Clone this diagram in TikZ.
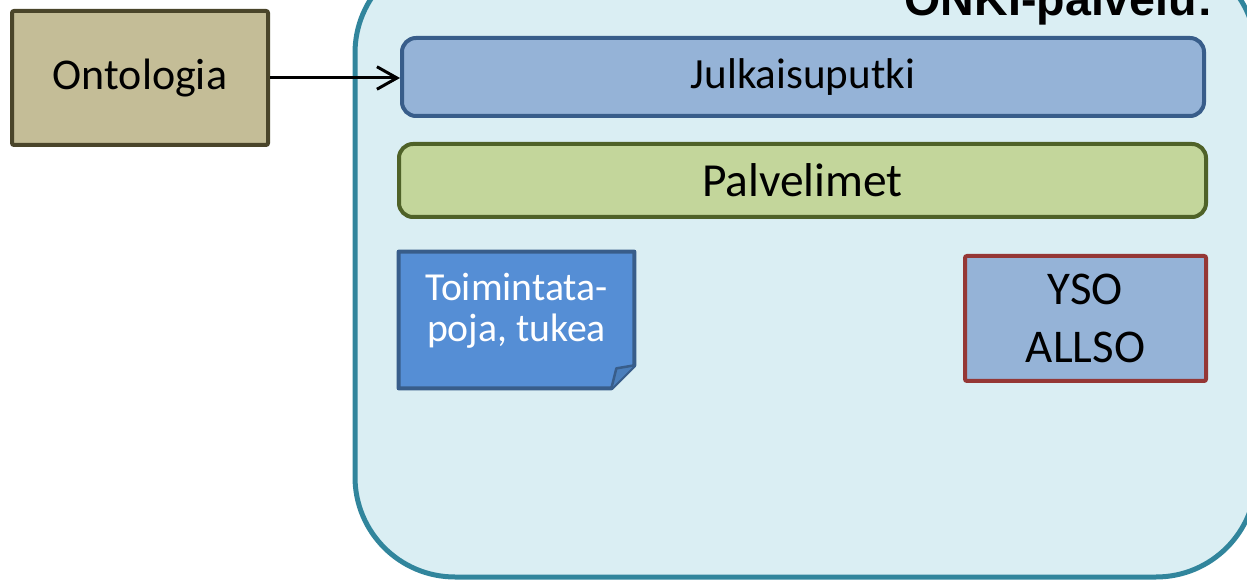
\documentclass[tikz,border=0pt]{standalone}
\usepackage{fontspec}
\setmainfont{Carlito}
\newfontfamily\titlefont{Liberation Sans}
\usetikzlibrary{arrows.meta}

\definecolor{onkifill}{HTML}{DAEEF3}
\definecolor{onkiline}{HTML}{31859C}
\definecolor{ontfill}{HTML}{C4BD97}
\definecolor{ontline}{HTML}{4A452A}
\definecolor{bluefill}{HTML}{95B3D7}
\definecolor{blueline}{HTML}{385D8A}
\definecolor{greenfill}{HTML}{C3D69B}
\definecolor{greenline}{HTML}{4F6228}
\definecolor{notefill}{HTML}{558ED5}
\definecolor{foldfill}{HTML}{4A7EBB}
\definecolor{redline}{HTML}{953735}

\begin{document}
\begin{tikzpicture}
\tikzstyle{box}=[rectangle,draw,line width=0.08cm,inner sep=0pt]
\tikzstyle{onkibox}=[rectangle,draw=onkiline,fill=onkifill,line width=0.1cm,rounded corners=2cm,minimum width=18.02cm,minimum height=12.48cm]
\tikzstyle{ontbox}=[box,draw=ontline,fill=ontfill,rounded corners=0.04cm,minimum width=5.12cm,minimum height=2.68cm,font=\fontsize{25}{30}\selectfont]
\tikzstyle{layer}=[box,rounded corners=0.28cm]
\tikzstyle{notebox}=[draw=blueline,fill=notefill,line width=0.08cm,line join=round]
\tikzstyle{arr}=[line width=0.06cm,-{Straight Barb[length=0.4cm,width=0.45cm,line width=0.06cm]}]
\useasboundingbox (0,0) rectangle (24.94,-11.64);
\clip (0,0) rectangle (24.94,-11.64);

\node[onkibox] (onki) at (16.11,-5.30) {};
\node[anchor=base east,inner sep=0pt,font=\titlefont\bfseries\fontsize{26.5}{30}\selectfont] (otsikko) at (24.26,-0.32) {ONKI-palvelu:};

\node[ontbox] (ont) at (2.80,-1.56) {Ontologia};

\node[layer,draw=blueline,fill=bluefill,minimum width=16.04cm,minimum height=1.56cm,font=\fontsize{24.5}{29}\selectfont] (julk) at (16.06,-1.54) {Julkaisuputki};
\node[layer,draw=greenline,fill=greenfill,minimum width=16.14cm,minimum height=1.46cm,font=\fontsize{27}{32}\selectfont] (palv) at (16.05,-3.61) {Palvelimet};

% muistilappu
\node[minimum width=4.70cm,minimum height=2.72cm,inner sep=0pt] (tuki) at (10.33,-6.40) {};
\draw[notebox] (tuki.north west) -- (tuki.north east) -- ([yshift=0.46cm]tuki.south east)
  -- ([xshift=-0.46cm]tuki.south east) -- (tuki.south west) -- cycle;
\draw[notebox,fill=foldfill,line width=0.05cm] ([yshift=0.46cm]tuki.south east) -- ([xshift=-0.36cm,yshift=0.4cm]tuki.south east) -- ([xshift=-0.46cm]tuki.south east);
\node[align=center,text=white,font=\fontsize{22.6}{23.2}\selectfont] (tukiteksti) at ([yshift=0.18cm]tuki.center) {Toimintata-\\poja, tukea};

\node[box,draw=redline,fill=bluefill,rounded corners=0.04cm,minimum width=4.82cm,minimum height=2.50cm,align=center,font=\fontsize{26.7}{33}\selectfont] (yso) at (21.71,-6.37) {YSO\\ALLSO};

\draw[arr] (ont.east) -- (ont.east -| julk.west);
\end{tikzpicture}
\end{document}
